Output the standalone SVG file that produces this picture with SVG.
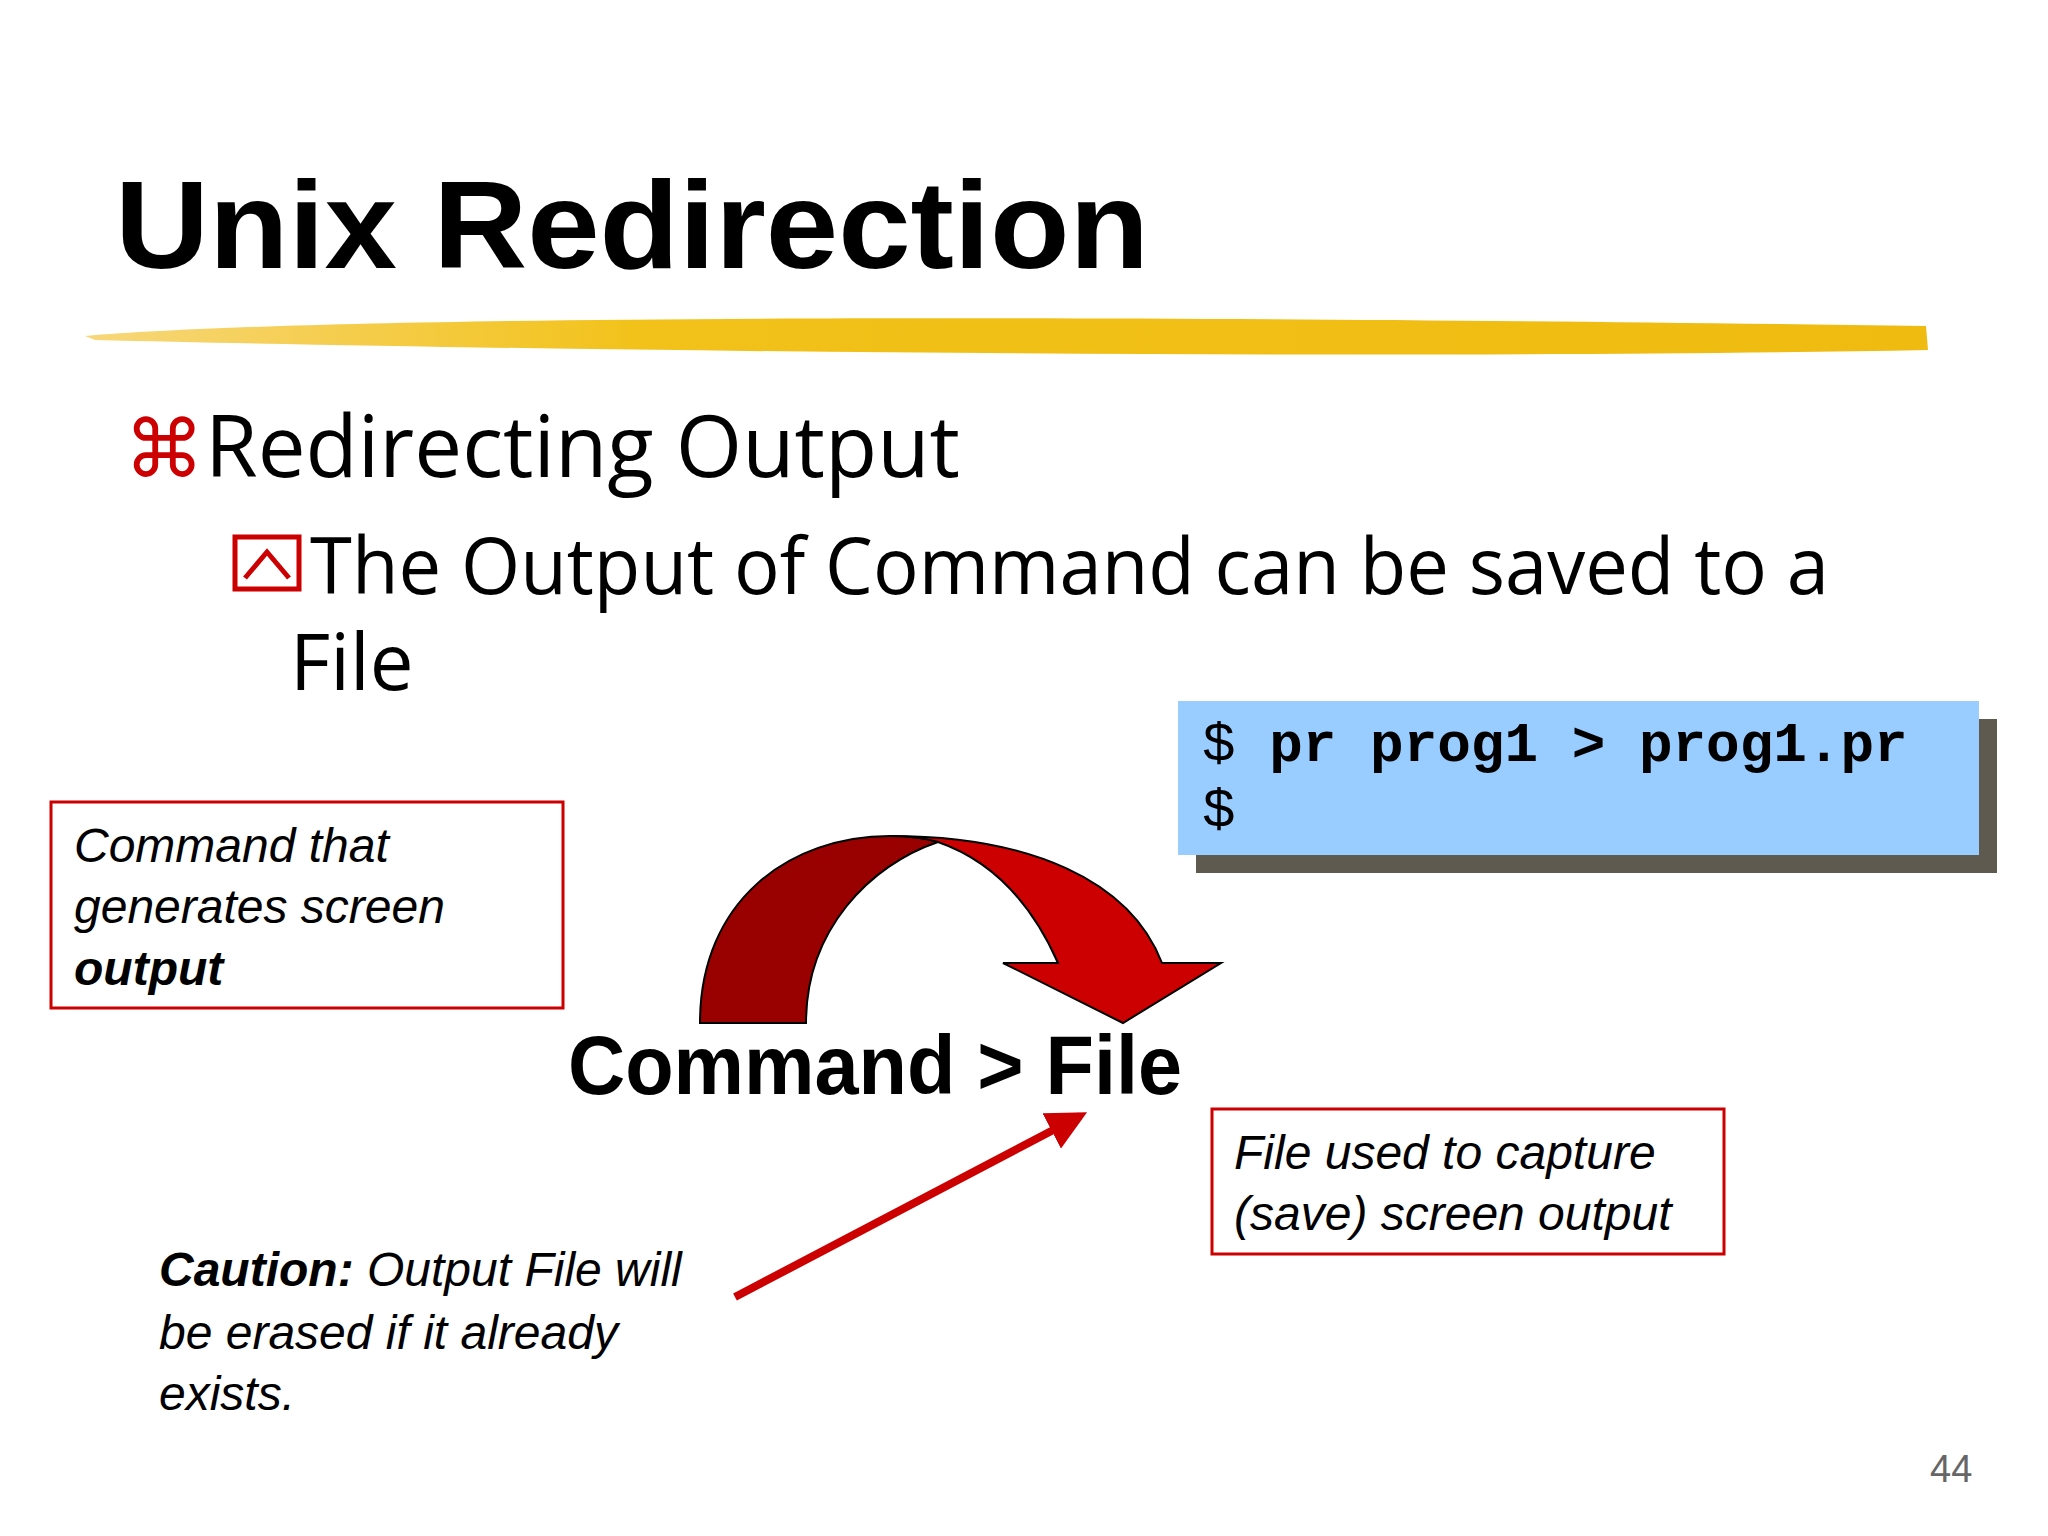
<svg xmlns="http://www.w3.org/2000/svg" width="2048" height="1536" viewBox="0 0 2048 1536">
<style>
.it{font-family:"Liberation Sans",Arial,sans-serif;font-style:italic;font-size:48px;fill:#000}
.bx{fill:#fff;stroke:#cc0000;stroke-width:3}
.mono{font-family:"Liberation Mono","Courier New",monospace;font-size:56px;fill:#000}
</style>
<defs>
<linearGradient id="br" x1="0" x2="1" y1="0" y2="0">
<stop offset="0" stop-color="#f7d77a"/><stop offset="0.3" stop-color="#f2c21a"/><stop offset="1" stop-color="#efbb10"/>
</linearGradient>
<marker id="ah" viewBox="0 0 10 10" refX="8" refY="5" markerWidth="5" markerHeight="5" orient="auto"><path d="M0,0 L10,5 L0,10 Z" fill="#cc0000"/></marker>
</defs>
<rect width="2048" height="1536" fill="#fff"/>
<g id="title">
<text x="115" y="268" font-family="'Liberation Sans',Arial,sans-serif" font-weight="bold" font-size="124" textLength="1034" lengthAdjust="spacingAndGlyphs">Unix Redirection</text>
<path d="M85,336 C300,318 900,312 1926,326 L1928,350 C1400,360 600,352 95,340 Z" fill="url(#br)"/>
</g>
<g id="bullets">
<text x="124" y="477" font-family="'DejaVu Sans',sans-serif" font-size="80" fill="#cc0000">⌘</text>
<text x="205" y="477" font-family="'Open Sans','Liberation Sans',sans-serif" font-size="86" textLength="755" lengthAdjust="spacingAndGlyphs">Redirecting Output</text>
<rect x="235" y="537" width="64" height="52" fill="none" stroke="#cc0000" stroke-width="5"/>
<path d="M245,578 L267,552 L289,578" fill="none" stroke="#cc0000" stroke-width="5"/>
<text x="310" y="594" font-family="'Open Sans','Liberation Sans',sans-serif" font-size="78" textLength="1519" lengthAdjust="spacingAndGlyphs">The Output of Command can be saved to a</text>
<text x="290" y="690" font-family="'Open Sans','Liberation Sans',sans-serif" font-size="78">File</text>
</g>
<g id="terminal">
<rect x="1196" y="719" width="801" height="154" fill="#5f5a50"/>
<rect x="1178" y="701" width="801" height="154" fill="#99ccff"/>
<text class="mono" x="1202" y="761">$ <tspan font-weight="bold">pr prog1 &gt; prog1.pr</tspan></text>
<text class="mono" x="1202" y="827">$</text>
</g>
<g id="cmdbox">
<rect class="bx" x="51" y="802" width="512" height="206"/>
<text class="it" x="74" y="862">Command that</text>
<text class="it" x="74" y="923">generates screen</text>
<text class="it" x="74" y="985" font-weight="bold">output</text>
</g>
<g id="filebox">
<rect class="bx" x="1212" y="1109" width="512" height="145"/>
<text class="it" x="1234" y="1169">File used to capture</text>
<text class="it" x="1234" y="1230">(save) screen output</text>
</g>
<g id="caution">
<text class="it" x="159" y="1286"><tspan font-weight="bold">Caution:</tspan>  Output File will</text>
<text class="it" x="159" y="1349">be erased if it already</text>
<text class="it" x="159" y="1410">exists.</text>
</g>
<g id="command">
<text x="568" y="1094" font-family="'Liberation Sans',Arial,sans-serif" font-weight="bold" font-size="84" textLength="614" lengthAdjust="spacingAndGlyphs">Command &gt; File</text>
</g>
<g id="connectors">
<path d="M700,1023 C700,900 790,836 890,836 C910,836 925,838 938,842 C870,865 806,930 806,1023 Z" fill="#990000" stroke="#000" stroke-width="2"/>
<path d="M890,836 C1030,836 1130,880 1162,963 L1221,963 L1123,1023 L1003,963 L1058,963 C1030,900 990,860 938,842 C925,838 910,836 890,836 Z" fill="#cc0000" stroke="#000" stroke-width="2"/>
<line x1="735" y1="1297" x2="1080" y2="1116" stroke="#cc0000" stroke-width="8" marker-end="url(#ah)"/>
</g>
<text x="1930" y="1482" font-family="'Liberation Sans',Arial,sans-serif" font-size="38" fill="#666">44</text>
</svg>
